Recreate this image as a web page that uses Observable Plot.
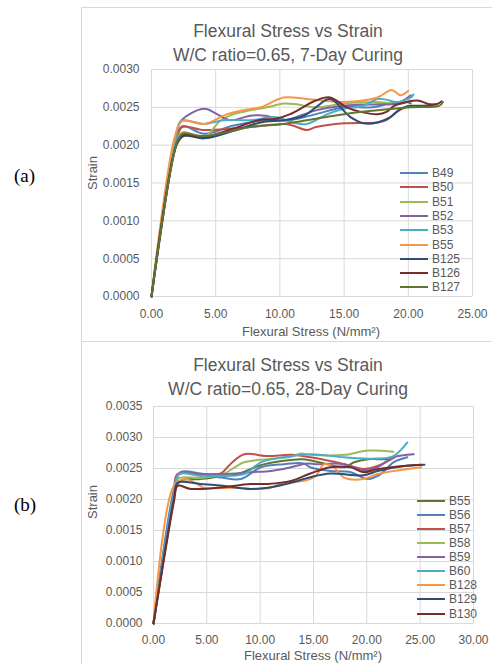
<!DOCTYPE html>
<html>
<head>
<meta charset="utf-8">
<script src="https://cdn.jsdelivr.net/npm/d3@7"></script>
<script src="https://cdn.jsdelivr.net/npm/@observablehq/plot@0.6"></script>
<style>
  html, body { margin: 0; padding: 0; background: #fff; }
  body { width: 492px; height: 664px; position: relative; overflow: hidden;
         font-family: "Liberation Sans", Arial, sans-serif; color: #595959; }
  .abs { position: absolute; }
  .frame { position: absolute; border-left: 1px solid #d9d9d9; border-top: 1px solid #d9d9d9; }
  .title { position: absolute; left: 88px; width: 400px; text-align: center; font-size: 17.5px; line-height: 24px; color: #595959; white-space: nowrap; }
  .xtitle { position: absolute; width: 300px; text-align: center; font-size: 13px; line-height: 16px; color: #595959; white-space: nowrap; }
  .ytitle { position: absolute; width: 60px; height: 16px; text-align: center; font-size: 13px; line-height: 16px; color: #595959; transform: rotate(-90deg); }
  .panel-label { position: absolute; font-family: "Liberation Serif", "Times New Roman", serif; font-size: 19px; line-height: 22px; color: #000; }
  .leg-row { position: absolute; height: 14px; font-size: 12px; line-height: 14px; color: #595959; white-space: nowrap; }
  .leg-line { position: absolute; left: 0; top: 6px; width: 28px; height: 2px; }
  .leg-text { position: absolute; left: 32px; top: 0; }
</style>
</head>
<body>
<script>
// ---------- Panel (a): W/C 0.65, 7-day curing ----------
const namesA = ["B49", "B50", "B51", "B52", "B53", "B55", "B125", "B126", "B127"];
const colorsA = ["#4F81BD", "#C0504D", "#9BBB59", "#8064A2", "#4BACC6", "#F79646", "#2C4D75", "#772C2A", "#5F7530"];
const xTicksA = [0, 5, 10, 15, 20, 25];
const yTicksA = [0, 0.0005, 0.001, 0.0015, 0.002, 0.0025, 0.003];

const a_B49 = [[0,0],[1.9,0.00205],[2.4,0.00225],[4.1,0.00215],[6.4,0.00226],[9,0.00233],[10.8,0.00233],[12.8,0.00241],[15,0.0025],[17.2,0.0025],[18.6,0.00255],[19.9,0.00257],[20.2,0.00255]];
const a_B50 = [[0,0],[1.9,0.00206],[2.4,0.00224],[4.1,0.0022],[7.7,0.00224],[10.3,0.00228],[11,0.00226],[12.1,0.0022],[12.8,0.00224],[15,0.00229],[17.6,0.0023],[18.3,0.00233],[19.1,0.00244],[20,0.00252]];
const a_B51 = [[0,0],[1.9,0.00203],[2.4,0.00217],[4.05,0.0021],[5.4,0.00233],[6.4,0.00241],[7.7,0.00246],[9,0.0025],[10.3,0.00255],[11.3,0.00254],[12.8,0.0025],[15,0.00255],[17.6,0.00257],[18.3,0.00256],[19.4,0.00255],[20.2,0.00259]];
const a_B52 = [[0,0],[1.9,0.00208],[2.3,0.00232],[4.1,0.00248],[5.1,0.00241],[6.15,0.00233],[7.7,0.00239],[8.9,0.00239],[10.3,0.00233],[11.9,0.00241],[12.8,0.00246],[15,0.00252],[17.6,0.00254],[19.1,0.00255],[20.2,0.00266]];
const a_B53 = [[0,0],[1.9,0.0021],[2.3,0.00232],[4.1,0.00228],[5.6,0.00233],[7.7,0.00233],[9.7,0.00237],[11,0.0023],[12.1,0.00228],[13.7,0.00241],[15,0.00248],[16.5,0.00252],[17.6,0.00261],[18.3,0.0026],[19.1,0.00257],[20.2,0.00263],[20.4,0.00267]];
const a_B55 = [[0,0],[1.8,0.0021],[2.4,0.00232],[4.1,0.00228],[5.9,0.00241],[7.45,0.00247],[8.5,0.0025],[10.3,0.00263],[12.1,0.00261],[15,0.00257],[17.6,0.00263],[18.7,0.00273],[19.4,0.00266],[20,0.00272]];
const a_B125 = [[0,0],[1.95,0.002],[2.5,0.00212],[4.1,0.00209],[6.4,0.00219],[8.5,0.0023],[10.3,0.00233],[11.9,0.00239],[12.8,0.0025],[13.9,0.00261],[15.5,0.00237],[16.5,0.00229],[17.6,0.0023],[18.6,0.00237],[19.4,0.00248],[20.2,0.00252],[21.2,0.00252],[22.2,0.00254]];
const a_B126 = [[0,0],[1.95,0.00201],[2.4,0.00213],[4.1,0.00211],[6.4,0.00222],[8.3,0.00233],[9.7,0.00235],[10.8,0.00241],[12.8,0.00259],[13.9,0.00263],[15.2,0.0025],[16.3,0.00244],[17.6,0.00241],[18.3,0.00244],[18.9,0.00252],[19.9,0.00257],[20.7,0.00259],[21.7,0.00254],[22.2,0.00254],[22.6,0.00258]];
const a_B127 = [[0,0],[1.95,0.00202],[2.4,0.00215],[4.1,0.00212],[7.7,0.00224],[10.3,0.00228],[12.8,0.00235],[15,0.00241],[17.6,0.00246],[20.2,0.0025],[22.4,0.00252],[22.7,0.00257]];
const seriesA = [a_B49, a_B50, a_B51, a_B52, a_B53, a_B55, a_B125, a_B126, a_B127];

// ---------- Panel (b): W/C 0.65, 28-day curing ----------
const namesB = ["B55", "B56", "B57", "B58", "B59", "B60", "B128", "B129", "B130"];
const colorsB = ["#5F7530", "#4F81BD", "#C0504D", "#9BBB59", "#8064A2", "#4BACC6", "#F79646", "#2C4D75", "#772C2A"];
const xTicksB = [0, 5, 10, 15, 20, 25, 30];
const yTicksB = [0, 0.0005, 0.001, 0.0015, 0.002, 0.0025, 0.003, 0.0035];

const b_B55 = [[0,0],[1.9,0.00205],[2.5,0.0023],[4.4,0.00233],[6.5,0.00238],[7.9,0.00241],[10,0.00255],[12,0.00262],[14,0.00265],[16,0.00258],[17.9,0.00252],[18.8,0.0026],[20.1,0.00265],[21,0.00265],[22.2,0.00265]];
const b_B56 = [[0,0],[1.9,0.00215],[2.5,0.00244],[4.4,0.00242],[6.5,0.00235],[8.2,0.00233],[10.06,0.00252],[12.2,0.00257],[14.1,0.00258],[14.7,0.00252],[16.6,0.00246],[18.5,0.00244],[20.1,0.00233],[21.3,0.00241],[22.5,0.0026],[23.8,0.00268]];
const b_B57 = [[0,0],[1.9,0.00212],[2.25,0.00241],[4.4,0.00241],[6.3,0.00242],[7.2,0.00257],[8.5,0.00273],[10.7,0.0027],[12.9,0.00272],[14.7,0.00268],[17.9,0.00257],[19.7,0.00249],[21,0.00254],[22.6,0.00268]];
const b_B58 = [[0,0],[1.9,0.00205],[2.25,0.00233],[4.4,0.00235],[6.5,0.00241],[8.5,0.0026],[10.7,0.00265],[12.9,0.00269],[13.8,0.00274],[14.7,0.00272],[17.9,0.00272],[20.1,0.00279],[22.5,0.00277]];
const b_B59 = [[0,0],[1.9,0.0021],[2.4,0.00241],[4.4,0.00241],[6.5,0.00241],[9.1,0.00244],[11,0.00246],[12.9,0.00252],[14.4,0.00258],[15.2,0.00257],[17.9,0.00257],[19.7,0.00246],[21,0.00252],[22.5,0.00268],[24.4,0.00273]];
const b_B60 = [[0,0],[1.9,0.0021],[2.4,0.00241],[4.4,0.00238],[6.5,0.00238],[8.5,0.00241],[10.06,0.0026],[12.2,0.00268],[14.7,0.00273],[17.9,0.00268],[21,0.00266],[22.5,0.0027],[23.8,0.00292]];
const b_B128 = [[0,0],[1.9,0.00222],[2.9,0.00233],[4.1,0.00225],[4.7,0.00219],[7.6,0.00219],[9.75,0.00217],[11,0.00219],[12.2,0.00227],[14.1,0.0023],[15.2,0.00238],[16,0.00257],[16.9,0.00252],[17.9,0.00235],[19.7,0.00233],[21,0.00241],[25.1,0.00252]];
const b_B129 = [[0,0],[1.95,0.00205],[2.25,0.00227],[4.4,0.00225],[6.5,0.00222],[9.1,0.00217],[10.7,0.00219],[12.9,0.00227],[14.7,0.00236],[16.6,0.00242],[19.7,0.00239],[21,0.00246],[23.5,0.00254],[25.4,0.00256]];
const b_B130 = [[0,0],[1.95,0.002],[2.25,0.00222],[3.5,0.00217],[6,0.00219],[9.1,0.00225],[10.7,0.00225],[12.9,0.0023],[14.7,0.00242],[16.6,0.00252],[18.5,0.00252],[19.7,0.00244],[21,0.00249],[23.5,0.00254],[25.1,0.00256]];
const seriesB = [b_B55, b_B56, b_B57, b_B58, b_B59, b_B60, b_B128, b_B129, b_B130];

// ---------- helpers ----------
function rowsOf(names, series) {
  const rows = [];
  names.forEach((n, i) => series[i].forEach(([x, y]) => rows.push({ name: n, x, y })));
  return rows;
}

function makePlot(names, series, colors, xTicks, yTicks, o) {
  return Plot.plot({
    width: o.width, height: o.height,
    marginLeft: o.ml, marginRight: o.mr, marginTop: o.mt, marginBottom: o.mb,
    style: { fontFamily: '"Liberation Sans", Arial, sans-serif', fontSize: "12px", color: "#595959", background: "transparent", overflow: "visible" },
    x: { domain: [xTicks[0], xTicks[xTicks.length - 1]], ticks: xTicks, tickFormat: d => d.toFixed(2), tickSize: 0, tickPadding: o.xpad, label: null },
    y: { domain: [yTicks[0], yTicks[yTicks.length - 1]], ticks: yTicks, tickFormat: d => d.toFixed(4), tickSize: 0, tickPadding: o.ypad, label: null },
    color: { domain: names, range: colors },
    marks: [
      Plot.ruleX(xTicks, { stroke: "#d9d9d9", strokeWidth: 1 }),
      Plot.ruleY(yTicks, { stroke: "#d9d9d9", strokeWidth: 1 }),
      Plot.line(rowsOf(names, series), { x: "x", y: "y", z: "name", stroke: "name", strokeWidth: 2, curve: "catmull-rom" })
    ]
  });
}

function addDiv(cls, text, styles) {
  const d = document.createElement("div");
  d.className = cls;
  if (text != null) d.textContent = text;
  Object.assign(d.style, styles);
  document.body.appendChild(d);
  return d;
}

function addLegend(names, colors, left, top0, step) {
  names.forEach((n, i) => {
    const row = addDiv("leg-row", null, { left: left + "px", top: Math.round(top0 + i * step - 7) + "px" });
    const ln = document.createElement("div");
    ln.className = "leg-line"; ln.style.background = colors[i];
    const tx = document.createElement("div");
    tx.className = "leg-text"; tx.textContent = n;
    row.appendChild(ln); row.appendChild(tx);
  });
}

// frames
addDiv("frame", null, { left: "81px", top: "7px", width: "420px", height: "334px" });
addDiv("frame", null, { left: "81px", top: "341px", width: "420px", height: "330px" });

// panel labels
addDiv("panel-label", "(a)", { left: "14px", top: "165px" });
addDiv("panel-label", "(b)", { left: "14px", top: "494px" });

// ---------- panel (a) ----------
addDiv("title", "Flexural Stress vs Strain", { top: "19px" });
addDiv("title", "W/C ratio=0.65, 7-Day Curing", { top: "43px" });
const plotA = makePlot(namesA, seriesA, colorsA, xTicksA, yTicksA,
  { width: 411, height: 280, ml: 70, mr: 20, mt: 9, mb: 44, xpad: 13, ypad: 12 });
const wrapA = addDiv("abs", null, { left: "81px", top: "60px" });
wrapA.appendChild(plotA);
addDiv("xtitle", "Flexural Stress (N/mm²)", { left: "161px", top: "324px" });
addDiv("ytitle", "Strain", { left: "63px", top: "165px" });
addLegend(namesA, colorsA, 400, 173, 14.3);

// ---------- panel (b) ----------
addDiv("title", "Flexural Stress vs Strain", { top: "353px" });
addDiv("title", "W/C ratio=0.65, 28-Day Curing", { top: "377px" });
const plotB = makePlot(namesB, seriesB, colorsB, xTicksB, yTicksB,
  { width: 411, height: 269, ml: 72, mr: 19, mt: 11, mb: 41, xpad: 12, ypad: 11 });
const wrapB = addDiv("abs", null, { left: "81px", top: "395px" });
wrapB.appendChild(plotB);
addDiv("xtitle", "Flexural Stress (N/mm²)", { left: "163px", top: "648px" });
addDiv("ytitle", "Strain", { left: "63px", top: "494px" });
addLegend(namesB, colorsB, 417, 500.7, 14.1);
</script>
</body>
</html>
